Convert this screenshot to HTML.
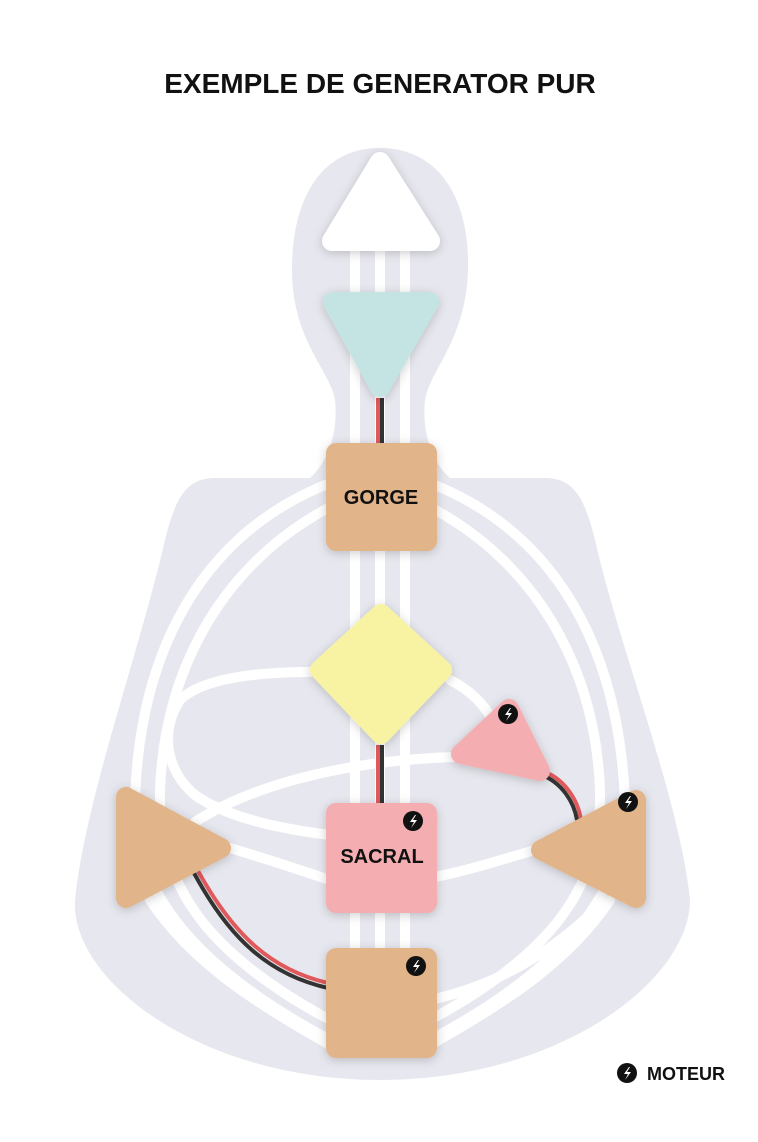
<!DOCTYPE html>
<html><head><meta charset="utf-8"><style>
html,body{margin:0;padding:0;background:#fff;}
svg{display:block;}
text{font-family:"Liberation Sans",sans-serif;font-weight:bold;}
</style></head><body>
<svg width="758" height="1142" viewBox="0 0 758 1142" xmlns="http://www.w3.org/2000/svg">
<defs>
<filter id="sh" x="-30%" y="-30%" width="160%" height="160%"><feDropShadow dx="0" dy="2" stdDeviation="5" flood-color="#000" flood-opacity="0.2"/></filter>
<g id="bolt"><circle r="10" fill="#111"/><path d="M2,-6 L-3,1 L1,1 L-2,7 L4,-1 L0,-1 L3,-6 Z" fill="#fff"/></g>
</defs>
<text x="380" y="93" font-size="28" text-anchor="middle" fill="#111">EXEMPLE DE GENERATOR PUR</text>

<!-- silhouette -->
<path fill="#e7e8ef" d="M380,148 C440,148 470,200 468,270 C466,340 430,370 425,400 C422,430 430,460 450,478 L545,478 C575,478 585,500 595,540 C620,650 680,800 690,900 C690,980 560,1080 380,1080 C200,1080 70,980 75,900 C85,800 140,650 165,540 C175,500 185,478 215,478 L310,478 C330,460 338,430 335,400 C330,370 292,340 292,270 C292,200 320,148 380,148 Z"/>

<!-- white channels -->
<g fill="none" stroke="#fff" stroke-width="10" stroke-linecap="round">
<line x1="355" y1="250" x2="355" y2="1000"/>
<line x1="380" y1="250" x2="380" y2="1000"/>
<line x1="405" y1="250" x2="405" y2="1000"/>
<path d="M330,483 C210,530 140,640 135,800 C132,880 180,960 330,1040"/>
<path d="M330,507 C230,560 165,660 160,790 C158,880 200,950 330,1020"/>
<path d="M430,483 C550,530 618,640 625,800 C628,880 580,960 430,1040"/>
<path d="M430,507 C530,560 595,660 600,790 C602,880 560,950 430,1020"/>
<path d="M150,900 C190,960 250,1000 330,1045"/>
<path d="M610,900 C570,960 510,1000 430,1045"/>
<path d="M600,905 C555,950 500,985 430,1000"/>
<path d="M310,672 C250,672 200,680 180,700 C160,730 165,770 195,795 C230,820 290,830 330,835"/>
<path d="M195,822 C260,780 360,760 455,757"/>
<path d="M230,848 C270,860 300,870 330,880"/>
<path d="M435,877 C470,870 500,860 535,850"/>
<path d="M450,680 C470,690 485,705 492,720"/>
</g>

<!-- defined channels -->
<g fill="none" stroke-width="4">
<line x1="378" y1="398" x2="378" y2="445" stroke="#e05a5c"/>
<line x1="382" y1="398" x2="382" y2="445" stroke="#333"/>
<line x1="378" y1="745" x2="378" y2="805" stroke="#e05a5c"/>
<line x1="382" y1="745" x2="382" y2="805" stroke="#333"/>
<path d="M194,873 C230,940 270,975 328,988" stroke="#333"/>
<path d="M198,871 C234,936 272,970 328,983" stroke="#e05a5c"/>
<path d="M545,772 C565,780 578,800 581,820" stroke="#e05a5c"/>
<path d="M542,775 C562,783 574,802 577,820" stroke="#333"/>
</g>

<!-- centers -->
<g filter="url(#sh)">
<path d="M380,162 L430,241 L332,241 Z" fill="#fff" stroke="#fff" stroke-width="20" stroke-linejoin="round"/>
<path d="M333,302 L429,302 L380,387 Z" fill="#c4e4e3" stroke="#c4e4e3" stroke-width="20" stroke-linejoin="round"/>
<rect x="326" y="443" width="111" height="108" rx="10" fill="#e2b48a"/>
<path d="M381,614 L442,670 L381,734 L320,670 Z" fill="#f8f3a2" stroke="#f8f3a2" stroke-width="20" stroke-linejoin="round"/>
<path d="M461,754 L509,709 L540,771 Z" fill="#f4adb0" stroke="#f4adb0" stroke-width="20" stroke-linejoin="round"/>
<rect x="326" y="803" width="111" height="110" rx="10" fill="#f4adb0"/>
<rect x="326" y="948" width="111" height="110" rx="10" fill="#e2b48a"/>
<path d="M126,797 L126,898 L221,848 Z" fill="#e2b48a" stroke="#e2b48a" stroke-width="20" stroke-linejoin="round"/>
<path d="M636,800 L636,898 L541,850 Z" fill="#e2b48a" stroke="#e2b48a" stroke-width="20" stroke-linejoin="round"/>
</g>
<text x="381" y="504" font-size="20" text-anchor="middle" fill="#111">GORGE</text>
<text x="382" y="863" font-size="20" text-anchor="middle" fill="#111">SACRAL</text>
<use href="#bolt" x="508" y="714"/>
<use href="#bolt" x="413" y="821"/>
<use href="#bolt" x="416" y="966"/>
<use href="#bolt" x="628" y="802"/>
<use href="#bolt" x="627" y="1073"/>
<text x="647" y="1080" font-size="18" fill="#111">MOTEUR</text>
</svg>
</body></html>
